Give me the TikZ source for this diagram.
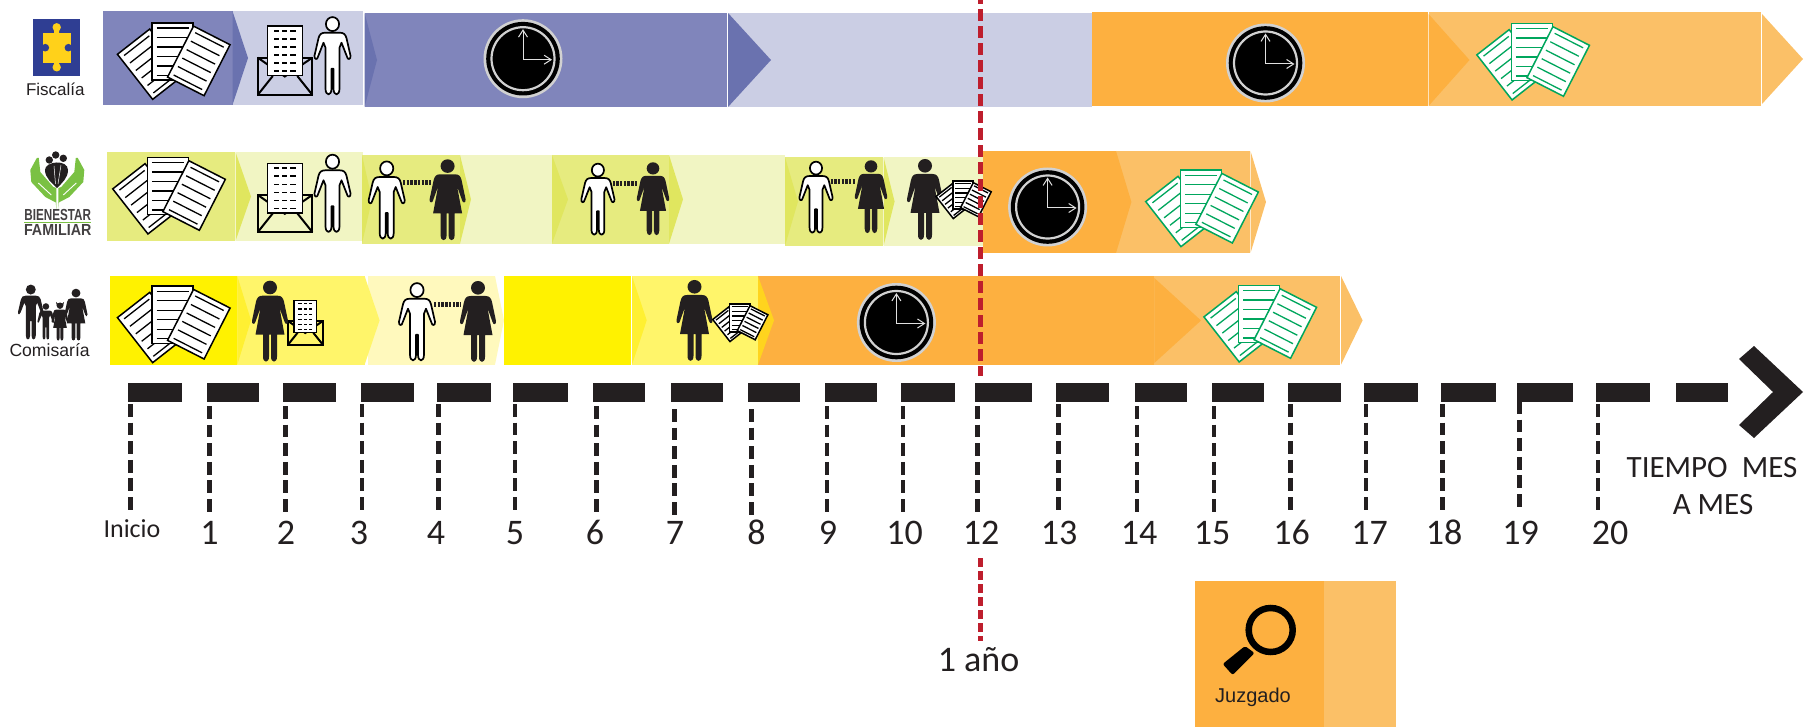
\documentclass[tikz,border=0pt]{standalone}
\usepackage{fontspec}
\usepackage{graphicx}
\setmainfont{Carlito}
\newfontfamily\arialf{Liberation Sans}
\usetikzlibrary{arrows.meta}
\definecolor{pa}{HTML}{8085BB}
\definecolor{pb}{HTML}{6A72AF}
\definecolor{pc}{HTML}{CBCEE4}
\definecolor{oa}{HTML}{FDB040}
\definecolor{ob}{HTML}{FBC067}
\definecolor{ga}{HTML}{E6EB7F}
\definecolor{gb}{HTML}{E0E65F}
\definecolor{gc}{HTML}{F1F5C3}
\definecolor{ya}{HTML}{FFF200}
\definecolor{yb}{HTML}{FFF56A}
\definecolor{yc}{HTML}{FFF9BD}
\definecolor{yd}{HTML}{FFF032}
\definecolor{ye}{HTML}{FFD41E}
\definecolor{ink}{HTML}{231F20}
\definecolor{red1}{HTML}{BE1E2D}
\definecolor{greendoc}{HTML}{00A65D}
\definecolor{leaf}{HTML}{7AC143}
\definecolor{logoblue}{HTML}{2F3E93}
\definecolor{logoyellow}{HTML}{FFD11A}
\newcommand\fbar[5]{\fill[#5] (#1,#2) rectangle (#3,#4);}
\newcommand\fwedge[5]{\fill[#5] (#1,#2) -- (#4,{(#2+#3)/2}) -- (#1,#3) -- cycle;}
\newcommand\tickline[2]{\draw[tickstyle] (#1,#2) -- ++(0,106.5);}
\newcommand\blockdash[2]{\fill[ink] (#1,383) rectangle (#2,402);}
\newcommand\manoutline{(-7,16) .. controls (-11,16) and (-13,17.5) .. (-14,21.5)
   -- (-18,39) .. controls (-18.5,43) and (-15,43.5) .. (-14.5,40) -- (-9,26) -- (-7,31) -- (-7,72)
   .. controls (-7,79.5) and (-1,79.5) .. (-1,72) -- (-1,52) -- (1,52) -- (1,72)
   .. controls (1,79.5) and (7,79.5) .. (7,72) -- (7,31) -- (9,26) -- (14.5,40)
   .. controls (15,43.5) and (18.5,43) .. (18,39) -- (14,21.5) .. controls (13,17.5) and (11,16) .. (7,16) -- cycle}
\tikzset{
 tickstyle/.style={ink,line width=4.6pt,dash pattern=on 12.8pt off 5.8pt},
 numlabel/.style={font=\fontsize{36}{36}\selectfont,text=ink,inner sep=0pt,anchor=base},
 dotlink/.style={ink,line width=5pt,dash pattern=on 2.4pt off 1.3pt},
 pics/manfig/.style={code={
  \draw[black,line width=1.7pt,fill=white] (0,7.4) circle[x radius=6.6,y radius=7];
  \draw[black,line width=1.7pt,fill=white,line join=round] \manoutline;
 }},
 pics/manblack/.style={code={
  \fill[ink] (0,7.4) circle[radius=7];
  \fill[ink] \manoutline;
 }},
 pics/womanfig/.style={code={
  \fill[ink] (0,6.8) circle[x radius=7,y radius=6.8];
  \fill[ink] (-7.5,15) .. controls (-11.5,15) and (-13,17) .. (-14,21)
   -- (-18,40) .. controls (-18.5,44) and (-15,44) .. (-14.5,41) -- (-9.5,27) -- (-14.5,54) -- (-7,54) -- (-7,76)
   .. controls (-7,82.5) and (-1,82.5) .. (-1,76) -- (-1,54) -- (1,54) -- (1,76)
   .. controls (1,82.5) and (7,82.5) .. (7,76) -- (7,54) -- (14.5,54) -- (9.5,27) -- (14.5,41)
   .. controls (15,44) and (18.5,44) .. (18,40) -- (14,21) .. controls (13,17) and (11.5,15) .. (7.5,15) -- cycle;
 }},
 pics/docsfig/.style={code={
  \foreach \cx/\cy/\ang in {33.8/41.5/38, 55.1/28.7/0, 81.4/38.2/-27}{
   \begin{scope}[shift={(\cx,\cy)},rotate=\ang]
    \draw[#1,line width=1.5pt,fill=white,line join=miter] (-20.5,-28.6) rectangle (20.5,28.6);
    \foreach \ly in {-23.5,-14,-4.5,5,14.5,24}{
     \draw[#1,line width=1.3pt] (-16,\ly) -- (16,\ly);
    }
   \end{scope}
  }
 }},
 pics/mailfig/.style={code={
  \draw[black,line width=2.2pt,line join=miter] (0,31.7) rectangle (54.5,68.8);
  \draw[black,line width=2pt] (0,31.7) -- (27,50.5) -- (54.5,31.7);
  \draw[black,line width=2pt] (0,68.8) -- (15,50) (54.5,68.8) -- (39.5,50);
  \draw[black,line width=1.5pt,fill=white] (9.5,0) rectangle (44.7,49.7);
  \foreach \ry in {4.7,13,21.3,29.3,37.3,45.3}{
   \foreach \rx in {18.9,27,35.2}{
    \fill[black] (\rx-2.6,\ry-.85) rectangle (\rx+2.6,\ry+.85);
   }
  }
 }},
 pics/clockfig/.style={code={
  \fill[black!18] (0,0) circle[radius=39.5];
  \fill[black] (0,0) circle[radius=36.8];
  \draw[black!18,line width=2.2pt] (0,0) circle[radius=31.5];
  \draw[black!12,line width=1pt,-{Straight Barb[length=7pt,width=9pt]}] (0,1) -- (0,-29.5);
  \draw[black!12,line width=1pt,-{Straight Barb[length=7pt,width=9pt]}] (0,1) -- (29,1);
 }}
}
\begin{document}
\begin{tikzpicture}[x=1pt,y=-1pt]
\useasboundingbox (0,0) rectangle (1807,727);
% ---- Fiscalia row
\fbar{102.8}{11}{232.5}{105}{pa}
\fbar{233}{11}{362.6}{105}{pc}
\fwedge{232.5}{11}{105}{248}{pb}
\fbar{364.6}{13}{727.3}{107}{pa}
\fwedge{364.6}{13}{107}{377}{pb}
\fbar{728}{13}{1092}{107}{pc}
\fwedge{728}{13}{107}{771}{pb}
\fbar{1092}{12}{1428}{106}{oa}
\fbar{1428.5}{12}{1761}{106}{ob}
\fwedge{1428.5}{14}{106}{1469.5}{oa}
\fwedge{1762}{14}{104}{1803}{ob}
% ---- ICBF row
\fbar{107}{152}{235.3}{241}{ga}
\fbar{235.5}{152}{362.6}{241}{gc}
\fwedge{235.5}{152}{241}{251}{gb}
\fbar{362}{155}{460}{243.7}{ga}
\fwedge{362}{155}{243.7}{372}{gb}
\fbar{460}{155}{552}{243.7}{gc}
\fwedge{460}{155}{243.7}{471}{gb}
\fbar{552}{155}{669}{243.7}{ga}
\fwedge{552}{155}{243.7}{568}{gb}
\fbar{669}{155}{785}{243.7}{gc}
\fwedge{669}{155}{243.7}{683}{gb}
\fbar{785}{157}{883}{246}{ga}
\fwedge{785}{157}{246}{798}{gb}
\fbar{883.5}{157}{983}{246}{gc}
\fwedge{883.5}{157}{246}{894.6}{gb}
\fbar{983}{151}{1116}{253}{oa}
\fbar{1116}{151}{1250}{253}{ob}
\fwedge{1116}{151}{253}{1131.4}{oa}
\fwedge{1250.5}{151}{253}{1266}{ob}
% ---- Comisaria row
\fbar{109.5}{276}{237}{364.7}{ya}
\fbar{237.3}{276}{364.6}{364.7}{yb}
\fwedge{237.3}{276}{364.7}{251}{yd}
\fbar{368}{276}{495}{364.7}{yc}
\fwedge{364.6}{276}{364.7}{379.6}{yb}
\fwedge{495}{276}{364.7}{504}{yc}
\fbar{504}{276}{631}{364.7}{ya}
\fbar{632}{276}{758}{364.7}{yb}
\fwedge{632}{276}{364.7}{646.7}{yd}
\fbar{758}{276}{1153.5}{364.7}{oa}
\fwedge{758}{276}{364.7}{774}{ye}
\fbar{1154.3}{276}{1340}{364.7}{ob}
\fwedge{1154.3}{278}{363}{1201}{oa}
\fwedge{1341}{276}{364.7}{1362.6}{ob}
% ---- Juzgado box
\fbar{1195}{581}{1324}{727}{oa}
\fbar{1324}{581}{1395.7}{727}{ob}
\draw[black,line width=6.5pt] (1270.7,630) circle[radius=22];
\fill[black,rounded corners=2pt] (1245,646) -- (1254.5,653) -- (1232.6,675) -- (1222.7,664) -- cycle;
\node[inner sep=0pt,anchor=base,text=ink,font=\arialf\fontsize{20}{20}\selectfont] (juzgado) at (1253,702) {Juzgado};
% ---- Fiscalia logo
\fill[logoblue] (32.7,19) rectangle (80,75.7);
\fill[logoyellow] (42.7,32.7) rectangle (71,62.7);
\fill[logoyellow] (56.7,27.3) circle[radius=4.2] (56.7,67.3) circle[radius=4.2];
\fill[logoyellow] (54.2,27) rectangle (59.2,34) (54.2,62) rectangle (59.2,68);
\fill[logoblue] (45.3,47.7) circle[radius=3.8] (68.4,47.7) circle[radius=3.8];
\fill[logoblue] (42,45.9) rectangle (45,49.5) (68.7,45.9) rectangle (72,49.5);
\node[inner sep=0pt,anchor=base,text=ink,font=\arialf\fontsize{17}{17}\selectfont] (fiscalia) at (55.3,95.7) {Fiscalía};
% ---- ICBF logo
\foreach \sgn in {1,-1}{
 \begin{scope}[shift={(57.3,0)},xscale=\sgn]
  \fill[leaf,line join=round] (-20.5,158) -- (-27,170) -- (-26,182) -- (-12,197) -- (-1.5,202.5) -- (-1,209) -- (-1,188)
   -- (-4,187) -- (-17,172) -- (-18.5,158) -- cycle;
  \draw[white,line width=.9pt] (-19,183) -- (-6,195);
 \end{scope}
}
\fill[ink] (49.3,160) circle[radius=3.7] (55.7,155) circle[radius=3.7] (63.3,158.3) circle[radius=3.7];
\fill[ink] (45,170) .. controls (45,161) and (68,159) .. (68,170) .. controls (68,178) and (62,183) .. (57,188) .. controls (52,183) and (45,178) .. (45,170) -- cycle;
\draw[white,line width=.5pt] (54,166) -- (55.5,184) (61,165) -- (58,184);
\node[inner sep=0pt,anchor=base,text=ink!85,font=\arialf\bfseries\fontsize{16}{16}\selectfont] (bienestar) at (57.7,221) {\scalebox{.73}[1]{BIENESTAR}};
\fill[leaf] (24,222) rectangle (91,223);
\node[inner sep=0pt,anchor=base,text=ink!85,font=\arialf\bfseries\fontsize{16}{16}\selectfont] (familiar) at (57.7,235.8) {\scalebox{.89}[1]{FAMILIAR}};
% ---- Comisaria family
\pic[scale=.71] at (30.8,284.3) {manblack};
\pic[scale=.47] at (45.9,303) {manblack};
\pic[scale=.47] at (60,302.5) {womanfig};
\fill[ink] (56,302) -- (59.5,305) -- (57,306.5) -- cycle (64,302) -- (60.5,305) -- (63,306.5) -- cycle;
\pic[scale=.64] at (76,288.7) {womanfig};
\node[inner sep=0pt,anchor=base,text=ink,font=\arialf\fontsize{17.6}{17.6}\selectfont] (comisaria) at (49.6,356.7) {Comisaría};
% ---- Documents
\pic at (117.4,22.7) {docsfig=black};
\pic at (112.7,157.3) {docsfig=black};
\pic at (117.4,286) {docsfig=black};
\pic at (1476.8,23.3) {docsfig=greendoc};
\pic at (1145.7,170) {docsfig=greendoc};
\pic at (1203.9,285.3) {docsfig=greendoc};
% ---- Mail and man
\pic at (257.8,26) {mailfig};
\pic at (332.5,16.7) {manfig};
\pic at (257.8,163.3) {mailfig};
\pic at (332.5,154.3) {manfig};
\pic[scale=.64] at (288,300.7) {mailfig};
\pic at (270,280.7) {womanfig};
% ---- Pairs
\pic at (386.7,161) {manfig};
\draw[dotlink] (403,182.7) -- (431,182.7);
\pic at (447.6,159.3) {womanfig};
\pic[scale=.92] at (597.9,163.3) {manfig};
\draw[dotlink] (612.6,183.3) -- (638.4,183.3);
\pic[scale=.9] at (653,162.3) {womanfig};
\pic[scale=.92] at (816,161.3) {manfig};
\draw[dotlink] (830.5,181.3) -- (856,181.3);
\pic[scale=.9] at (871,160.3) {womanfig};
\pic at (925,159) {womanfig};
\pic[scale=.49] at (936,181) {docsfig=black};
\pic at (417,282.7) {manfig};
\draw[dotlink] (434,304.3) -- (461,304.3);
\pic at (478,281) {womanfig};
\pic at (694.5,280) {womanfig};
\pic[scale=.49] at (712.7,304) {docsfig=black};
% ---- Clocks
\pic at (523,58.7) {clockfig};
\pic at (1265.5,63) {clockfig};
\pic at (1047.6,207) {clockfig};
\pic at (896.4,322.5) {clockfig};
% ---- Timeline
\blockdash{128}{182}\blockdash{207}{259}\blockdash{283}{336}\blockdash{360.5}{414}\blockdash{437}{491}
\blockdash{512.6}{568}\blockdash{593}{645}\blockdash{671}{723}\blockdash{748}{800}\blockdash{825}{877}
\blockdash{901}{955}\blockdash{975}{1032}\blockdash{1056}{1109}\blockdash{1135}{1187}\blockdash{1212}{1264}
\blockdash{1288}{1341}\blockdash{1364}{1418}\blockdash{1441}{1496}\blockdash{1517}{1573}\blockdash{1596}{1650}
\blockdash{1676}{1728}
\fill[ink] (1754,346) -- (1803,392) -- (1754,438) -- (1739,425) -- (1773,392) -- (1739,359) -- cycle;
\tickline{130.3}{404}\tickline{209.5}{406}\tickline{285.3}{406}\tickline{362}{404}\tickline{438.6}{404}
\tickline{515}{404}\tickline{596.5}{406}\tickline{674.5}{409}\tickline{751.4}{409}\tickline{827}{406}
\tickline{903}{406}\tickline{977.5}{406}\tickline{1058.5}{404}\tickline{1137}{406}\tickline{1214}{406}
\tickline{1290.4}{404}\tickline{1366}{404}\tickline{1442.5}{404}\tickline{1519.4}{401}\tickline{1598}{404}
% ---- Labels
\node[inner sep=0pt,anchor=base,text=ink,font=\fontsize{26}{26}\selectfont] (inicio) at (132,537.5) {Inicio};
\foreach \nm/\nx in {1/209.5,2/286,3/359,4/436,5/515,6/595,7/675,8/756.6,9/828,10/904.6,12/981,13/1059,14/1139,15/1212,16/1291.5,17/1369.6,18/1444,19/1520.6,20/1610}{
 \node[numlabel] (n\nm) at (\nx,544) {\nm};
}
\node[inner sep=0pt,anchor=base,text=ink,font=\fontsize{31}{31}\selectfont] (tiempo) at (1712,477) {TIEMPO\ \ MES};
\node[inner sep=0pt,anchor=base,text=ink,font=\fontsize{31}{31}\selectfont] (ames) at (1713,514) {A MES};
\node[numlabel] (anio) at (978.6,671) {1 año};
% ---- Red line
\draw[red1,line width=5pt,dash pattern=on 11.3pt off 5.7pt] (980.2,-7.7) -- (980.2,376);
\draw[red1,line width=5pt,dash pattern=on 8.5pt off 4.5pt] (980.2,558) -- (980.2,641);
\end{tikzpicture}
\end{document}
